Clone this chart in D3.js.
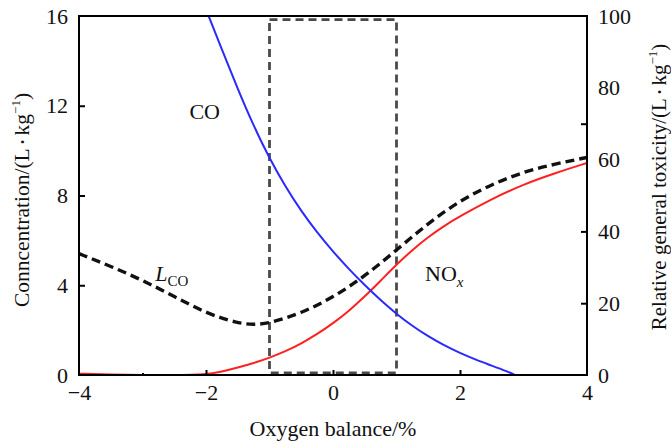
<!DOCTYPE html>
<html lang="en">
<head>
<meta charset="utf-8">
<title>Oxygen balance toxicity</title>
<script src="https://cdnjs.cloudflare.com/ajax/libs/d3/7.8.5/d3.min.js"></script>
<style>
  body { margin: 0; background: #fff; }
  svg text { font-family: "Liberation Serif", "Times New Roman", serif; fill: #111; }
</style>
</head>
<body>
<div id="chart"></div>
<script>
// oxygen balance (%) values for each curve
const coX   = [-2.1, -2, -1.75, -1.5, -1.25, -1, -0.75, -0.5, -0.25, 0, 0.25, 0.5, 0.75, 1, 1.25, 1.5, 1.75, 2, 2.25, 2.5, 2.75, 2.87, 2.9];
const coY   = [17.0, 16.3, 14.5, 12.75, 11.1, 9.65, 8.4, 7.3, 6.35, 5.5, 4.72, 4.0, 3.33, 2.72, 2.18, 1.72, 1.32, 0.98, 0.68, 0.42, 0.15, 0, -0.05];

const noxX  = [-4, -3.5, -3, -2.5, -2, -1.75, -1.5, -1.25, -1, -0.75, -0.5, -0.25, 0, 0.25, 0.5, 0.75, 1, 1.25, 1.5, 1.75, 2, 2.5, 3, 3.5, 4];
const noxY  = [0.06, 0.02, 0, 0, 0.02, 0.15, 0.33, 0.53, 0.77, 1.05, 1.4, 1.82, 2.3, 2.85, 3.5, 4.2, 4.92, 5.58, 6.15, 6.65, 7.08, 7.85, 8.5, 9.0, 9.45];

// L_CO, relative general toxicity (right axis units)
const lcoX  = [-4, -3.5, -3, -2.5, -2, -1.5, -1.25, -1, -0.5, 0, 0.5, 1, 1.5, 2, 2.5, 3, 3.5, 4];
const lcoY  = [33.8, 30.3, 26.4, 21.9, 17.2, 14.4, 14.0, 14.4, 17.2, 21.6, 27.5, 34.8, 42.3, 48.6, 53.1, 56.6, 58.8, 60.6];

// optimum oxygen balance window
const boxX = [-1, 1];
const boxY = [0.6, 99];

const xTicks = [-4, -2, 0, 2, 4];
const xMarks = [-3, -2, 0, 2];
const leftTicks = [0, 4, 8, 12, 16];
const leftMarks = [4, 8, 12];
const rightTicks = [0, 20, 40, 60, 80, 100];
const rightMarks = [20, 40, 70];

const W = 671, H = 443;
const m = { left: 79, right: 84, top: 16, bottom: 68 };

const svg = d3.select("#chart").append("svg")
  .attr("width", W).attr("height", H);

const x = d3.scaleLinear().domain([-4, 4]).range([m.left, W - m.right]);
const yL = d3.scaleLinear().domain([0, 16]).range([H - m.bottom, m.top]);
const yR = d3.scaleLinear().domain([0, 100]).range([H - m.bottom, m.top]);

svg.append("clipPath").attr("id", "clip")
  .append("rect")
  .attr("x", m.left).attr("y", m.top)
  .attr("width", W - m.left - m.right).attr("height", H - m.top - m.bottom);

// dashed window
svg.append("rect")
  .attr("x", x(boxX[0])).attr("y", yR(boxY[1]))
  .attr("width", x(boxX[1]) - x(boxX[0]))
  .attr("height", yR(boxY[0]) - yR(boxY[1]))
  .attr("fill", "none").attr("stroke", "#4a4a4a")
  .attr("stroke-width", 2.8).attr("stroke-dasharray", "8,5");

const plot = svg.append("g").attr("clip-path", "url(#clip)");

const lineL = d3.line().x(d => x(d[0])).y(d => yL(d[1])).curve(d3.curveBasis);
const lineR = d3.line().x(d => x(d[0])).y(d => yR(d[1])).curve(d3.curveBasis);

plot.append("path").datum(d3.zip(noxX, noxY))
  .attr("d", lineL).attr("fill", "none").attr("stroke", "#ff2020").attr("stroke-width", 2);

plot.append("path").datum(d3.zip(coX, coY))
  .attr("d", lineL).attr("fill", "none").attr("stroke", "#2a2aff").attr("stroke-width", 2);

plot.append("path").datum(d3.zip(lcoX, lcoY))
  .attr("d", lineR).attr("fill", "none").attr("stroke", "#111")
  .attr("stroke-width", 3.4).attr("stroke-dasharray", "9,5");

// frame
const frame = svg.append("g").attr("stroke", "#000").attr("stroke-width", 2).attr("fill", "none");
frame.append("line").attr("x1", m.left).attr("x2", m.left).attr("y1", m.top).attr("y2", H - m.bottom);
frame.append("line").attr("x1", W - m.right).attr("x2", W - m.right).attr("y1", m.top).attr("y2", H - m.bottom);
frame.append("line").attr("x1", m.left - 1).attr("x2", W - m.right + 1).attr("y1", m.top).attr("y2", m.top);
frame.append("line").attr("x1", m.left - 1).attr("x2", W - m.right + 1).attr("y1", H - m.bottom).attr("y2", H - m.bottom);

// axes: inward tick marks, labels outside
const fs = 22;
const gx = svg.append("g").attr("transform", `translate(0,${H - m.bottom})`)
  .call(d3.axisTop(x).tickValues(xMarks).tickSize(5).tickFormat(""));
const gxl = svg.append("g").attr("transform", `translate(0,${H - m.bottom})`)
  .call(d3.axisBottom(x).tickValues(xTicks).tickSize(0).tickPadding(9)
    .tickFormat(d => d < 0 ? "\u2212" + Math.abs(d) : d));

const gl = svg.append("g").attr("transform", `translate(${m.left},0)`)
  .call(d3.axisRight(yL).tickValues(leftMarks).tickSize(6).tickFormat(""));
const gll = svg.append("g").attr("transform", `translate(${m.left},0)`)
  .call(d3.axisLeft(yL).tickValues(leftTicks).tickSize(0).tickPadding(11));

const gr = svg.append("g").attr("transform", `translate(${W - m.right},0)`)
  .call(d3.axisLeft(yR).tickValues(rightMarks).tickSize(6).tickFormat(""));
const grl = svg.append("g").attr("transform", `translate(${W - m.right},0)`)
  .call(d3.axisRight(yR).tickValues(rightTicks).tickSize(0).tickPadding(11));

svg.selectAll(".domain").remove();
svg.selectAll(".tick line").attr("stroke", "#000").attr("stroke-width", 2);
svg.selectAll(".tick text").style("font-size", fs + "px")
  .style("font-family", "'Liberation Serif', serif").attr("fill", "#111");
gx.selectAll(".tick line").filter(d => d === -3).attr("y2", -2);

// axis titles
svg.append("text")
  .attr("x", (x(-4) + x(4)) / 2).attr("y", 436)
  .attr("text-anchor", "middle").style("font-size", "22px")
  .text("Oxygen balance/%");

const unit = (sel) => {
  sel.append("tspan").text("(L\u2009");
  sel.append("tspan").text("\u2022").style("font-size", "12px").attr("dy", -2);
  sel.append("tspan").text("\u2009kg").attr("dy", 2);
  sel.append("tspan").text("\u22121").style("font-size", "13px").attr("dy", -9);
  sel.append("tspan").text(")").attr("dy", 9);
};

const tL = svg.append("text")
  .attr("transform", "translate(29,200) rotate(-90)")
  .attr("text-anchor", "middle").style("font-size", "21.5px");
tL.append("tspan").text("Conncentration/");
unit(tL);

const tR = svg.append("text")
  .attr("transform", "translate(666,187) rotate(-90)")
  .attr("text-anchor", "middle").style("font-size", "21px");
tR.append("tspan").text("Relative general toxicity/");
unit(tR);

// curve labels
svg.append("text").attr("x", x(-2.02)).attr("y", yL(11.4)).attr("text-anchor", "middle")
  .style("font-size", "22px").text("CO");

const lco = svg.append("text").attr("x", x(-2.8)).attr("y", yL(4.2)).style("font-size", "22px");
lco.append("tspan").text("L").style("font-style", "italic");
lco.append("tspan").text("CO").style("font-size", "15px").attr("dy", 5);

const nox = svg.append("text").attr("x", x(1.45)).attr("y", yL(4.2)).style("font-size", "22px");
nox.append("tspan").text("NO");
nox.append("tspan").text("x").style("font-size", "15px").style("font-style", "italic").attr("dy", 6);
</script>
</body>
</html>
